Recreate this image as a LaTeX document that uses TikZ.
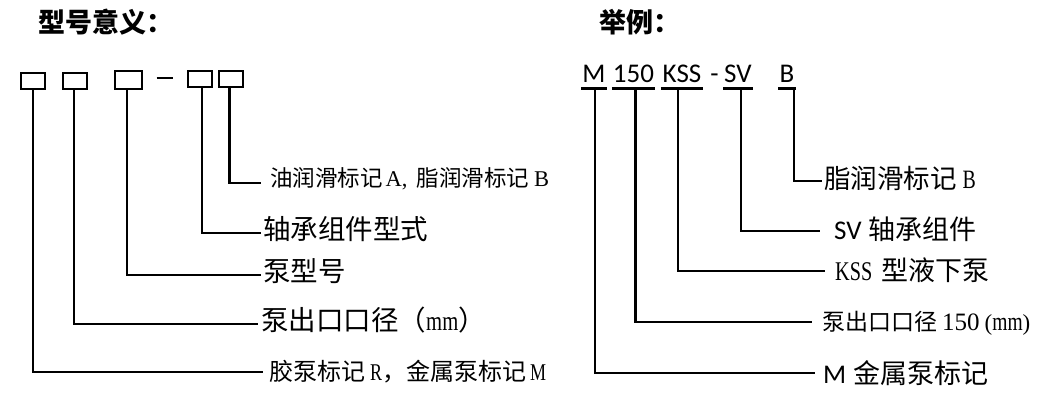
\documentclass[tikz,border=0pt]{standalone}
\usepackage{fontspec}
\setmainfont{Liberation Serif}
\newfontfamily\cjk{Noto Sans CJK SC}
\newfontfamily\cali{Carlito}
\newfontfamily\hw{Liberation Serif}[FakeStretch=0.75]
\newcommand{\fs}[1]{\fontsize{#1}{#1}\selectfont}
\begin{document}
\begin{tikzpicture}[x=1pt,y=-1pt,line width=2.4pt,
		box/.style={draw,minimum width=24pt,minimum height=16pt,inner sep=0pt},
		tok/.style={anchor=base,inner sep=0pt,text depth=5pt,font=\cali\fs{27}},
		lab/.style={anchor=west,inner ysep=0pt,inner xsep=1pt},
		title/.style={anchor=west,inner sep=0pt,font=\cjk\bfseries\fs{27}}]
		\useasboundingbox (0,0) rectangle (1049,412);
		% titles
		\node [title] (tmean) at (37,22) {型号意义：};
		\node [title] (texam) at (598,22) {举例：};
		% boxes
		\node [box] (b1) at (32.7,80.9) {};
		\node [box] (b2) at (75,80.9) {};
		\node [box,minimum width=26.5pt,minimum height=17.5pt] (b3) at (128.5,80) {};
		\node [box] (b4) at (200,79.2) {};
		\node [box] (b5) at (230.7,79.2) {};
		\draw (156.7,77.7) -- (172.7,77.7);
		% meanings
		\node [lab,inner xsep=8pt,font=\fs{22.5}] (l5) at (261,179)
		{{\cjk 油润滑标记}\hspace{3pt}A,\hspace{9pt}{\cjk 脂润滑标记}\hspace{5pt}B};
		\node [lab,font=\cjk\fs{27.5}] (l4) at (261,229) {轴承组件型式};
		\node [lab,font=\cjk\fs{27.5}] (l3) at (261,271) {泵型号};
		\node [lab,inner xsep=2pt,font=\fs{27.5}] (l2) at (258,320) {{\cjk 泵出口口径（}{\hw mm}{\cjk ）}};
		\node [lab,inner xsep=5pt,font=\fs{24}] (l1) at (263,372)
		{{\cjk 胶泵标记}\hspace{5pt}{\hw R}{\cjk ，}{\cjk 金属泵标记}\hspace{4pt}{\hw M}};
		% lines
		\draw ([xshift=-1.4pt]b5.south) |- ([yshift=-4pt]l5.west);
		\draw ([xshift=1.7pt]b4.south) |- ([yshift=-4pt]l4.west);
		\draw ([xshift=-1.8pt]b3.south) |- ([yshift=-4pt]l3.west);
		\draw ([xshift=-1pt]b2.south) |- ([yshift=-4pt]l2.west);
		\draw (b1.south) |- (l1.west);
		% example code
		\node [tok,minimum width=22pt] (cM) at (594,82.3) {M};
		\node [tok,minimum width=41pt] (c150) at (633.5,82.3) {150};
		\node [tok,minimum width=40pt] (cK) at (682,82.3) {KSS};
		\node [tok] (cdash) at (714.5,82.3) {-};
		\node [tok,anchor=base west] (cS) at (723,82.3) {SV\hspace{14pt}};
		\node [tok,minimum width=15pt] (cB) at (787,82.3) {B};
		\foreach \t in {cM,c150,cK,cS,cB}
		\draw (\t.south west) -- (\t.south east);
		% example meanings
		\node [lab,inner xsep=1pt,font=\fs{26.5}] (rB) at (822,178) {{\cjk 脂润滑标记}\hspace{6pt}{\hw B}};
		\node [lab,inner xsep=13pt,font=\fs{27}] (rS) at (820,229) {{\cali SV} {\cjk 轴承组件}};
		\node [lab,inner xsep=9pt,font=\fs{27}] (rK) at (825,270) {{\hw KSS}\hspace{9pt}{\cjk 型液下泵}};
		\node [lab,inner xsep=9pt,font=\fs{23}] (r150) at (812,323)
		{{\cjk 泵出口口径}\hspace{5pt}{\fs{25}150}\hspace{5pt}{\fs{23}(}{\hw\fs{26}mm}{\fs{23})}};
		\node [lab,inner xsep=7pt,font=\fs{27}] (rM) at (815,373) {{\cali M} {\cjk 金属泵标记}};
		% example lines
		\draw ([xshift=-1.5pt]cB.south east) |- ([yshift=-3pt]rB.west);
		\draw ([xshift=3pt]cS.south) |- ([yshift=-2pt]rS.west);
		\draw ([xshift=-4.3pt]cK.south) |- ([yshift=-1pt]rK.west);
		\draw ([xshift=2pt]c150.south) |- ([yshift=1pt]r150.west);
		\draw ([xshift=1pt]cM.south) |- (rM.west);
	\end{tikzpicture}
\end{document}
